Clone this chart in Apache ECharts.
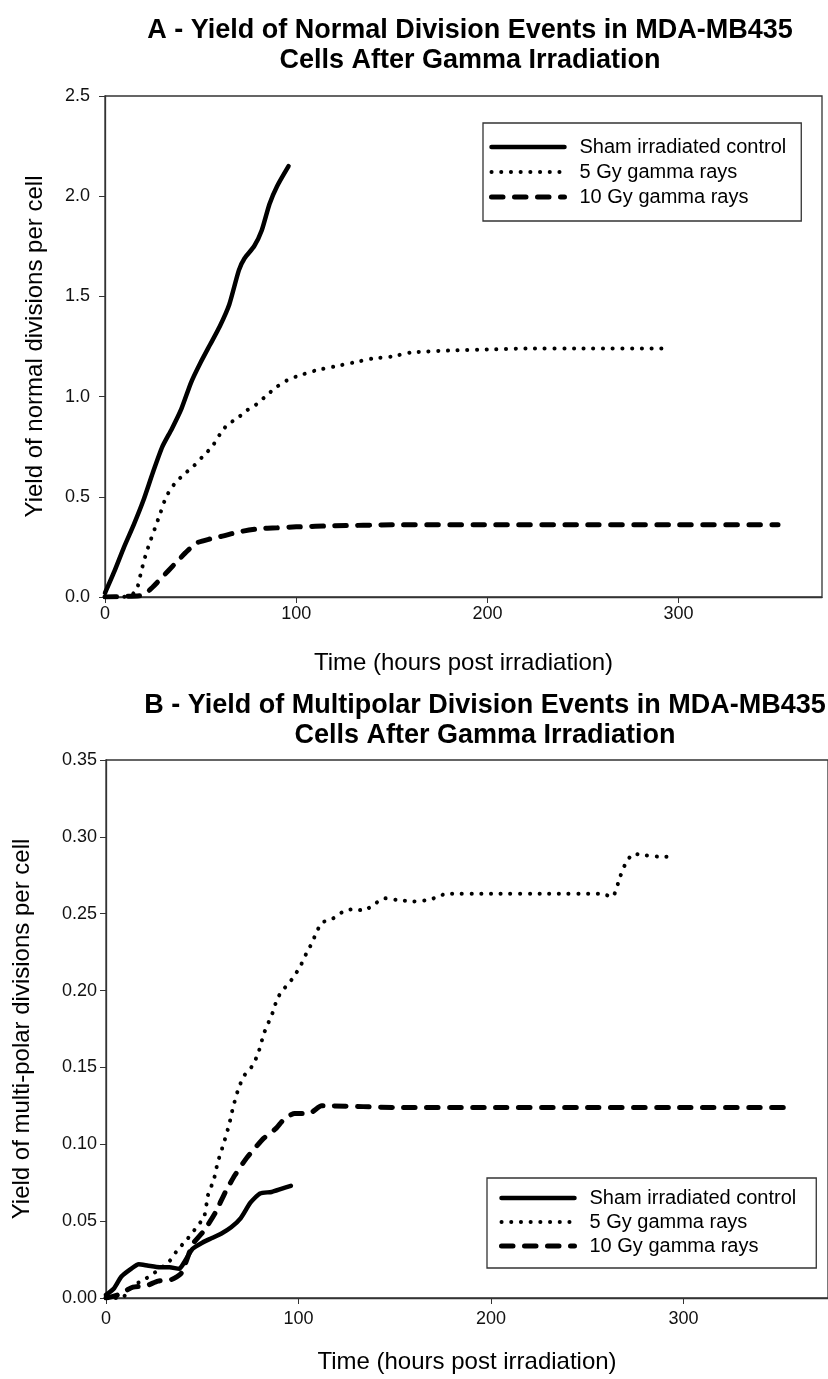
<!DOCTYPE html>
<html>
<head>
<meta charset="utf-8">
<script src="https://cdn.jsdelivr.net/npm/echarts@6/dist/echarts.min.js"></script>
<style>
  html, body { margin: 0; padding: 0; background: #fff; }
  #main { width: 828px; height: 1379px; }
</style>
</head>
<body>
<div id="main"></div>
<script>
// 数据：[小时, 产率]

// A 图 - normal divisions
var shamNormal = [[0,0.02],[5,0.13],[10,0.25],[15,0.36],[20,0.48],[25,0.62],[30,0.75],[35,0.84],[40,0.94],
  [45,1.07],[50,1.17],[55,1.26],[60,1.35],[65,1.46],[70,1.63],[73,1.69],[78,1.75],[82,1.83],[86,1.96],[90,2.05],[96,2.15]];
var gy5Normal = [[0,0],[8,0],[14,0.01],[17,0.05],[19,0.13],[21,0.2],[23,0.26],[26,0.34],[29,0.42],[32,0.5],
  [36,0.56],[41,0.61],[46,0.65],[51,0.7],[56,0.75],[60,0.81],[64,0.86],[69,0.89],[74,0.93],[79,0.96],[85,1.01],
  [90,1.05],[95,1.08],[100,1.1],[110,1.13],[120,1.15],[130,1.17],[140,1.19],[150,1.2],[160,1.22],[180,1.23],
  [200,1.235],[220,1.24],[250,1.24],[293,1.24]];
var gy10Normal = [[0,0],[10,0.003],[20,0.01],[25,0.05],[30,0.1],[36,0.16],[42,0.22],[48,0.27],[55,0.29],
  [62,0.305],[70,0.325],[80,0.34],[90,0.345],[100,0.35],[120,0.355],[150,0.36],[200,0.36],[250,0.36],[300,0.36],[352,0.36]];

// B 图 - multipolar divisions
var shamMulti = [[0,0.002],[4,0.006],[8,0.014],[13,0.019],[17,0.022],[22,0.021],[28,0.02],[33,0.02],[38,0.019],
  [41,0.024],[45,0.032],[50,0.036],[55,0.039],[60,0.042],[65,0.046],[70,0.052],[75,0.062],[80,0.068],[86,0.069],
  [91,0.071],[96,0.073]];
var gy5Multi = [[0,0],[8,0],[14,0.008],[20,0.012],[27,0.018],[33,0.024],[37,0.031],[42,0.038],[47,0.046],
  [51,0.053],[53,0.067],[56,0.077],[58,0.088],[61,0.1],[64,0.113],[66,0.124],[69,0.137],[72,0.145],[76,0.151],
  [79,0.159],[82,0.172],[85,0.181],[87,0.187],[89,0.195],[93,0.202],[97,0.208],[101,0.216],[104,0.224],
  [107,0.231],[109,0.237],[112,0.244],[118,0.247],[124,0.252],[129,0.253],[134,0.252],[139,0.256],[145,0.26],
  [151,0.259],[160,0.258],[168,0.259],[172,0.261],[177,0.263],[200,0.263],[230,0.263],[257,0.263],[263,0.261],
  [267,0.274],[270,0.283],[274,0.289],[280,0.288],[289,0.287],[295,0.287]];
var gy10Multi = [[0,0],[6,0.002],[14,0.007],[21,0.008],[27,0.011],[34,0.012],[39,0.016],[42,0.025],[45,0.035],
  [51,0.044],[57,0.056],[62,0.069],[67,0.08],[73,0.091],[77,0.097],[82,0.104],[88,0.11],[93,0.117],[98,0.12],
  [103,0.12],[107,0.121],[112,0.125],[117,0.125],[150,0.124],[200,0.124],[250,0.124],[300,0.124],[352,0.124]];

var names = ['Sham irradiated control', '5 Gy gamma rays', '10 Gy gamma rays'];
var xTicks = [0, 100, 200, 300];

var font = 'Liberation Sans, Arial, sans-serif';
var myChart = echarts.init(document.getElementById('main'));

// 三种线型
var solidStyle = { color: '#000', width: 4.5, type: 'solid', cap: 'round', join: 'round' };
var dotStyle = { color: '#000', width: 4, type: [0.1, 9.6], cap: 'round' };
var dashStyle = { color: '#000', width: 5, type: [11.5, 11.5], cap: 'round' };
var styles = [solidStyle, dotStyle, dashStyle];
var noSymbol = { color: 'transparent', borderColor: 'transparent', borderWidth: 0, opacity: 0 };

function xAxisOf(gi, labelMargin, nameGap) {
    return {
        type: 'value', gridIndex: gi, min: 0, max: 375,
        name: 'Time (hours post irradiation)', nameLocation: 'middle', nameGap: nameGap,
        nameTextStyle: { fontFamily: font, fontSize: 24, color: '#000' },
        axisLine: { lineStyle: { color: '#333', width: 1.3 } },
        axisTick: { show: true, inside: false, length: 6, customValues: xTicks, lineStyle: { color: '#333' } },
        axisLabel: { customValues: xTicks, margin: labelMargin, fontFamily: font, fontSize: 18, color: '#111' },
        splitLine: { show: false }
    };
}

function yAxisOf(gi, max, interval, digits, name, nameGap, labelMargin) {
    return {
        type: 'value', gridIndex: gi, min: 0, max: max, interval: interval,
        name: name, nameLocation: 'middle', nameGap: nameGap,
        nameTextStyle: { fontFamily: font, fontSize: 24, color: '#000' },
        axisLine: { show: true, lineStyle: { color: '#333', width: 1.3 } },
        axisTick: { show: true, inside: false, length: 6, lineStyle: { color: '#333' } },
        axisLabel: {
            margin: labelMargin, fontFamily: font, fontSize: 18, color: '#111',
            formatter: function (v) { return v.toFixed(digits); }
        },
        splitLine: { show: false }
    };
}

function legendOf(left, top, pad, gap) {
    return {
        orient: 'vertical', left: left, top: top,
        data: names.map(function (n, i) { return { name: n, lineStyle: styles[i], itemStyle: noSymbol }; }),
        itemWidth: 73, itemHeight: 16, itemGap: gap,
        padding: pad,
        borderColor: '#333', borderWidth: 1.3, backgroundColor: '#fff',
        selectedMode: false,
        textStyle: { fontFamily: font, fontSize: 20, lineHeight: 20, color: '#000', padding: [0, 0, 0, 10] }
    };
}

function seriesOf(data, i, axisIdx) {
    return {
        name: names[i], type: 'line', xAxisIndex: axisIdx, yAxisIndex: axisIdx,
        data: data, symbol: 'none', smooth: 0.2, lineStyle: styles[i], itemStyle: { color: '#000' },
        silent: true, animation: false
    };
}

var option = {
    backgroundColor: '#fff',
    animation: false,
    title: [{
        text: 'A - Yield of Normal Division Events in MDA-MB435\nCells After Gamma Irradiation',
        left: 465, top: 11, textAlign: 'center',
        textStyle: { fontFamily: font, fontSize: 27, fontWeight: 'bold', color: '#000', lineHeight: 30 }
    }, {
        text: 'B - Yield of Multipolar Division Events in MDA-MB435\nCells After Gamma Irradiation',
        left: 480, top: 686, textAlign: 'center',
        textStyle: { fontFamily: font, fontSize: 27, fontWeight: 'bold', color: '#000', lineHeight: 30 }
    }],
    grid: [
        { left: 105, top: 96, width: 717, height: 501, show: true, borderColor: '#333', borderWidth: 1.3 },
        { left: 106, top: 760, width: 727, height: 538, show: true, borderColor: '#333', borderWidth: 1.3 }
    ],
    xAxis: [xAxisOf(0, 8, 54), xAxisOf(1, 12, 52)],
    yAxis: [
        yAxisOf(0, 2.5, 0.5, 1, 'Yield of normal divisions per cell', 58, 15),
        yAxisOf(1, 0.35, 0.05, 2, 'Yield of multi-polar divisions per cell', 72, 9)
    ],
    legend: [legendOf(483, 123, [14, 15, 14, 6], 5), legendOf(487, 1178, [10, 20, 12, 12], 4)],
    series: [
        seriesOf(shamNormal, 0, 0),
        seriesOf(gy5Normal, 1, 0),
        seriesOf(gy10Normal, 2, 0),
        seriesOf(shamMulti, 0, 1),
        seriesOf(gy5Multi, 1, 1),
        seriesOf(gy10Multi, 2, 1)
    ]
};

myChart.setOption(option);
</script>
</body>
</html>
